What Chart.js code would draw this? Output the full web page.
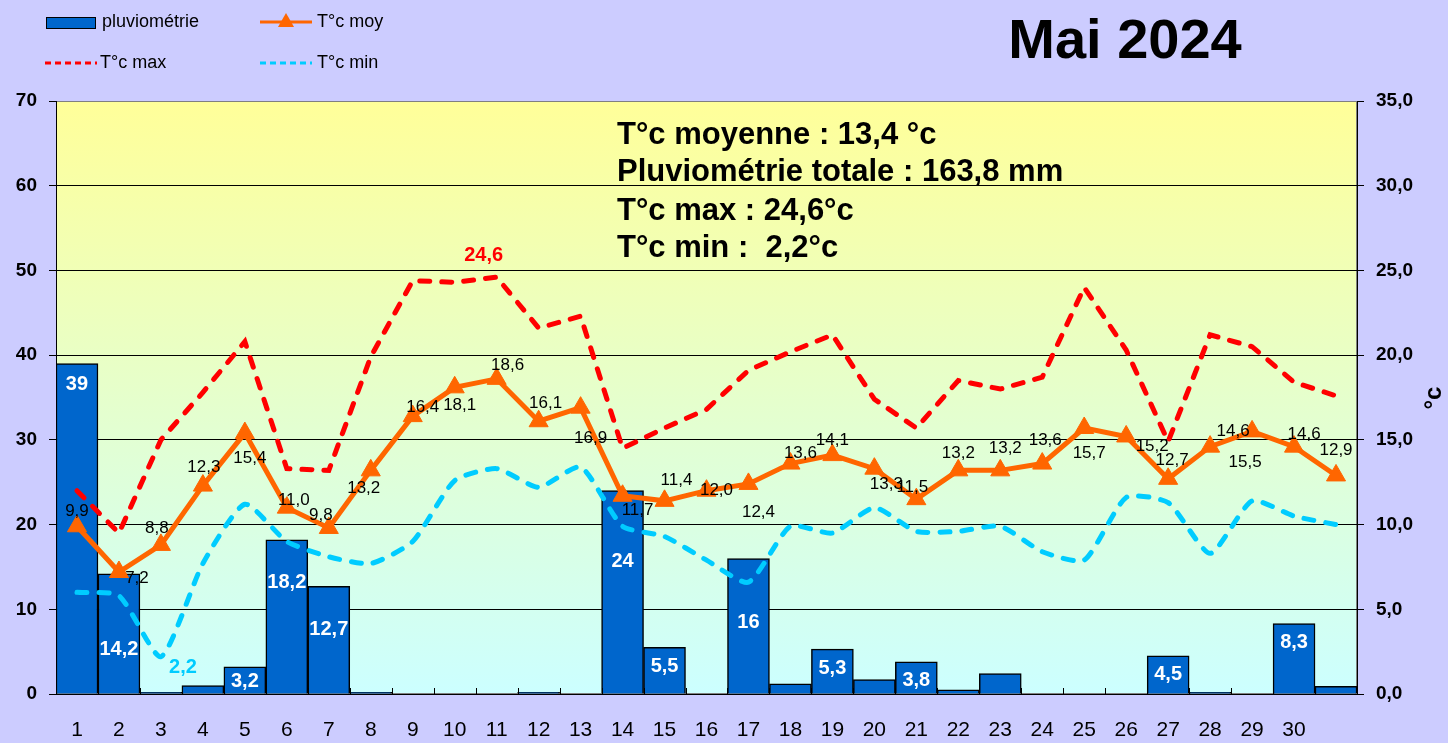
<!DOCTYPE html>
<html>
<head>
<meta charset="utf-8">
<script src="https://cdn.jsdelivr.net/npm/chart.js@4.4.0/dist/chart.umd.min.js"></script>
<style>
  html, body { margin: 0; padding: 0; background: #ccccff; overflow: hidden; }
  canvas { display: block; }
</style>
</head>
<body>
<canvas id="chartMai" width="1448" height="743"></canvas>
<script>
// --- DONNÉES ---
const jours = ['1','2','3','4','5','6','7','8','9','10','11','12','13','14','15','16','17','18','19','20',
               '21','22','23','24','25','26','27','28','29','30',''];
const pluie = [39, 14.2, 0.2, 1.0, 3.2, 18.2, 12.7, 0.2, 0, 0, 0, 0.2, 0, 24, 5.5, 0, 16, 1.2, 5.3, 1.7,
               3.8, 0.5, 2.4, 0, 0, 0, 4.5, 0.2, 0, 8.3, 0.9];
const tMoy = [9.9, 7.2, 8.8, 12.3, 15.4, 11.0, 9.8, 13.2, 16.4, 18.1, 18.6, 16.1, 16.9, 11.7, 11.4, 12.0,
              12.4, 13.6, 14.1, 13.3, 11.5, 13.2, 13.2, 13.6, 15.7, 15.2, 12.7, 14.6, 15.5, 14.6, 12.9];
const tMax = [12.0, 9.5, 15.0, 17.8, 20.8, 13.3, 13.2, 19.9, 24.4, 24.3, 24.6, 21.6, 22.3, 14.5, 15.7, 16.8,
              19.1, 20.2, 21.2, 17.4, 15.7, 18.5, 18.0, 18.7, 24.0, 20.3, 14.9, 21.2, 20.5, 18.4, 17.6];
const tMin = [6.0, 5.8, 2.2, 7.7, 11.2, 9.0, 8.1, 7.7, 9.0, 12.6, 13.3, 12.2, 13.4, 9.9, 9.3, 7.9,
              6.6, 9.9, 9.5, 11.0, 9.6, 9.6, 9.9, 8.4, 7.9, 11.6, 11.3, 8.3, 11.4, 10.5, 10.0];

const titre = 'Mai 2024';
const resume = ['T°c moyenne : 13,4 °c', 'Pluviométrie totale : 163,8 mm', 'T°c max : 24,6°c', 'T°c min :  2,2°c'];

// décalage des étiquettes T°c moy (dx, dy en px) pour éviter les chevauchements
const decalMoy = [[0,-15],[18,6],[-4,-17],[1,-18],[5,25],[7,-7],[-8,-13],[-7,18],[10,-9],[5,18],[11,-14],
                  [7,-18],[10,31],[15,15],[12,-21],[10,0],[10,28],[10,-10],[0,-15],[12,16],[-4,-12],[0,-17],
                  [5,-22],[3,-23],[5,25],[26,10],[4,-19],[23,-15],[-7,31],[10,-12],[0,-25]];
// descente supplémentaire de quelques étiquettes de pluie
const decalPluie = {0: 2, 1: 57, 4: -4, 5: 24, 6: 24, 13: 52, 16: 45};

const BLEU = '#0066cc', ORANGE = '#ff6600', ROUGE = '#ff0000', CYAN = '#00ccff';
const virgule = v => String(v).replace('.', ',');

// --- PLUGIN : fond, légende, étiquettes ---
const decorPlugin = {
    id: 'decor',
    beforeDraw(chart) {
        const { ctx, chartArea: a } = chart;
        ctx.save();
        ctx.fillStyle = '#ccccff';
        ctx.fillRect(0, 0, chart.width, chart.height);
        const g = ctx.createLinearGradient(0, a.top, 0, a.bottom);
        g.addColorStop(0, '#ffff99');
        g.addColorStop(1, '#ccffff');
        ctx.fillStyle = g;
        ctx.fillRect(a.left, a.top, a.right - a.left, a.bottom - a.top);
        ctx.strokeStyle = '#808080';
        ctx.lineWidth = 1;
        ctx.strokeRect(a.left + 0.5, a.top + 0.5, a.right - a.left - 1, a.bottom - a.top - 1);
        ctx.restore();
    },
    afterDatasetsDraw(chart) {
        const { ctx, chartArea: a } = chart;
        ctx.save();
        ctx.textAlign = 'center';
        ctx.textBaseline = 'middle';

        // petits traits de graduation vers l'intérieur sur l'axe X
        const xs = chart.scales.x;
        const pas = xs.getPixelForValue(1) - xs.getPixelForValue(0);
        ctx.strokeStyle = '#000';
        ctx.lineWidth = 1;
        for (let i = 0; i <= jours.length; i++) {
            const x = Math.round(xs.getPixelForValue(0) - pas / 2 + i * pas) + 0.5;
            ctx.beginPath();
            ctx.moveTo(x, a.bottom);
            ctx.lineTo(x, a.bottom - 6);
            ctx.stroke();
        }

        // étiquettes pluie
        const barres = chart.getDatasetMeta(0).data;
        ctx.font = 'bold 20px "Liberation Sans", Arial, sans-serif';
        ctx.fillStyle = '#ffffff';
        barres.forEach((b, i) => {
            if (pluie[i] < 3) return;
            ctx.fillText(virgule(pluie[i]), b.x, b.y + 19 + (decalPluie[i] || 0));
        });

        // étiquettes T°c moy
        const pts = chart.getDatasetMeta(3).data;
        ctx.font = '17px "Liberation Sans", Arial, sans-serif';
        ctx.fillStyle = '#000000';
        pts.forEach((p, i) => {
            ctx.fillText(tMoy[i].toFixed(1).replace('.', ','), p.x + decalMoy[i][0], p.y + decalMoy[i][1]);
        });

        // maxi des max et mini des min
        const iMax = tMax.indexOf(Math.max(...tMax));
        const pMax = chart.getDatasetMeta(1).data[iMax];
        ctx.font = 'bold 20px "Liberation Sans", Arial, sans-serif';
        ctx.fillStyle = ROUGE;
        ctx.fillText(tMax[iMax].toFixed(1).replace('.', ','), pMax.x - 13, pMax.y - 22);
        const iMin = tMin.indexOf(Math.min(...tMin));
        const pMin = chart.getDatasetMeta(2).data[iMin];
        ctx.fillStyle = CYAN;
        ctx.fillText(tMin[iMin].toFixed(1).replace('.', ','), pMin.x + 22, pMin.y + 11);
        ctx.restore();
    },
    afterDraw(chart) {
        const { ctx } = chart;
        ctx.save();
        ctx.textBaseline = 'middle';

        // légende
        ctx.font = '18px "Liberation Sans", Arial, sans-serif';
        ctx.fillStyle = BLEU;
        ctx.fillRect(46, 17, 49, 11);
        ctx.strokeStyle = '#000';
        ctx.lineWidth = 1;
        ctx.strokeRect(46.5, 17.5, 49, 11);
        ctx.fillStyle = '#000';
        ctx.fillText(chart.data.datasets[0].label, 102, 22);

        ctx.strokeStyle = ORANGE;
        ctx.lineWidth = 3;
        ctx.beginPath(); ctx.moveTo(260, 22); ctx.lineTo(312, 22); ctx.stroke();
        ctx.fillStyle = ORANGE;
        ctx.beginPath(); ctx.moveTo(286, 13); ctx.lineTo(294, 27); ctx.lineTo(278, 27); ctx.closePath(); ctx.fill();
        ctx.fillStyle = '#000';
        ctx.fillText(chart.data.datasets[3].label, 317, 22);

        ctx.lineWidth = 3;
        ctx.setLineDash([6, 4]);
        ctx.strokeStyle = ROUGE;
        ctx.beginPath(); ctx.moveTo(45, 63); ctx.lineTo(97, 63); ctx.stroke();
        ctx.strokeStyle = CYAN;
        ctx.beginPath(); ctx.moveTo(260, 63); ctx.lineTo(312, 63); ctx.stroke();
        ctx.setLineDash([]);
        ctx.fillText(chart.data.datasets[1].label, 100, 63);
        ctx.fillText(chart.data.datasets[2].label, 317, 63);

        // titre
        ctx.font = 'bold 56px "Liberation Sans", Arial, sans-serif';
        ctx.textAlign = 'center';
        ctx.fillText(titre, 1125, 43);

        // résumé
        ctx.font = 'bold 31px "Liberation Sans", Arial, sans-serif';
        ctx.textAlign = 'left';
        [135, 172, 211, 248].forEach((y, i) => ctx.fillText(resume[i], 617, y));

        // titre axe droit
        ctx.font = 'bold 24px "Liberation Sans", Arial, sans-serif';
        ctx.translate(1434, 398);
        ctx.rotate(-Math.PI / 2);
        ctx.textAlign = 'center';
        ctx.fillText('°c', 0, 0);
        ctx.restore();
    }
};

// --- GRAPHIQUE ---
new Chart(document.getElementById('chartMai'), {
    type: 'bar',
    data: {
        labels: jours,
        datasets: [
            {
                type: 'bar', label: 'pluviométrie', data: pluie, yAxisID: 'y',
                backgroundColor: BLEU, borderColor: '#000', borderWidth: 1.5,
                barPercentage: 1, categoryPercentage: 1, order: 4
            },
            {
                type: 'line', label: 'T°c max', data: tMax, yAxisID: 'y1',
                borderColor: ROUGE, borderWidth: 5, borderDash: [10, 12], borderCapStyle: 'round',
                pointRadius: 0, tension: 0, order: 3
            },
            {
                type: 'line', label: 'T°c min', data: tMin, yAxisID: 'y1',
                borderColor: CYAN, borderWidth: 5, borderDash: [10, 12], borderCapStyle: 'round',
                pointRadius: 0, tension: 0.2, order: 2
            },
            {
                type: 'line', label: 'T°c moy', data: tMoy, yAxisID: 'y1',
                borderColor: ORANGE, borderWidth: 5, backgroundColor: ORANGE,
                pointStyle: 'triangle', pointRadius: 11, pointBorderWidth: 1, pointBorderColor: ORANGE,
                pointBackgroundColor: ORANGE, tension: 0, order: 1
            }
        ]
    },
    options: {
        responsive: false,
        animation: false,
        layout: { padding: { top: 101, left: 0, right: 0, bottom: 0 } },
        plugins: { legend: { display: false }, tooltip: { enabled: false } },
        scales: {
            x: {
                offset: true,
                grid: { display: false, drawTicks: false },
                border: { display: true, color: '#000', width: 1 },
                ticks: {
                    color: '#000', padding: 24, autoSkip: false, maxRotation: 0,
                    font: { size: 21, family: '"Liberation Sans", Arial, sans-serif' }
                },
                afterFit: s => { s.height = 49; }
            },
            y: {
                position: 'left', min: 0, max: 70,
                ticks: {
                    stepSize: 10, color: '#000', padding: 12,
                    font: { size: 19, weight: 'bold', family: '"Liberation Sans", Arial, sans-serif' }
                },
                grid: {
                    color: c => (c.tick && c.tick.value === 70 ? '#808080' : '#000'),
                    tickColor: '#000', lineWidth: 1, tickLength: 7
                },
                border: { color: '#000', width: 1 },
                afterFit: s => { s.width = 56; }
            },
            y1: {
                position: 'right', min: 0, max: 35,
                ticks: {
                    stepSize: 5, color: '#000', padding: 12,
                    callback: v => v.toFixed(1).replace('.', ','),
                    font: { size: 19, weight: 'bold', family: '"Liberation Sans", Arial, sans-serif' }
                },
                grid: { drawOnChartArea: false, tickColor: '#000', tickLength: 7 },
                border: { color: '#000', width: 1 },
                afterFit: s => { s.width = 91; }
            }
        }
    },
    plugins: [decorPlugin]
});
</script>
</body>
</html>
